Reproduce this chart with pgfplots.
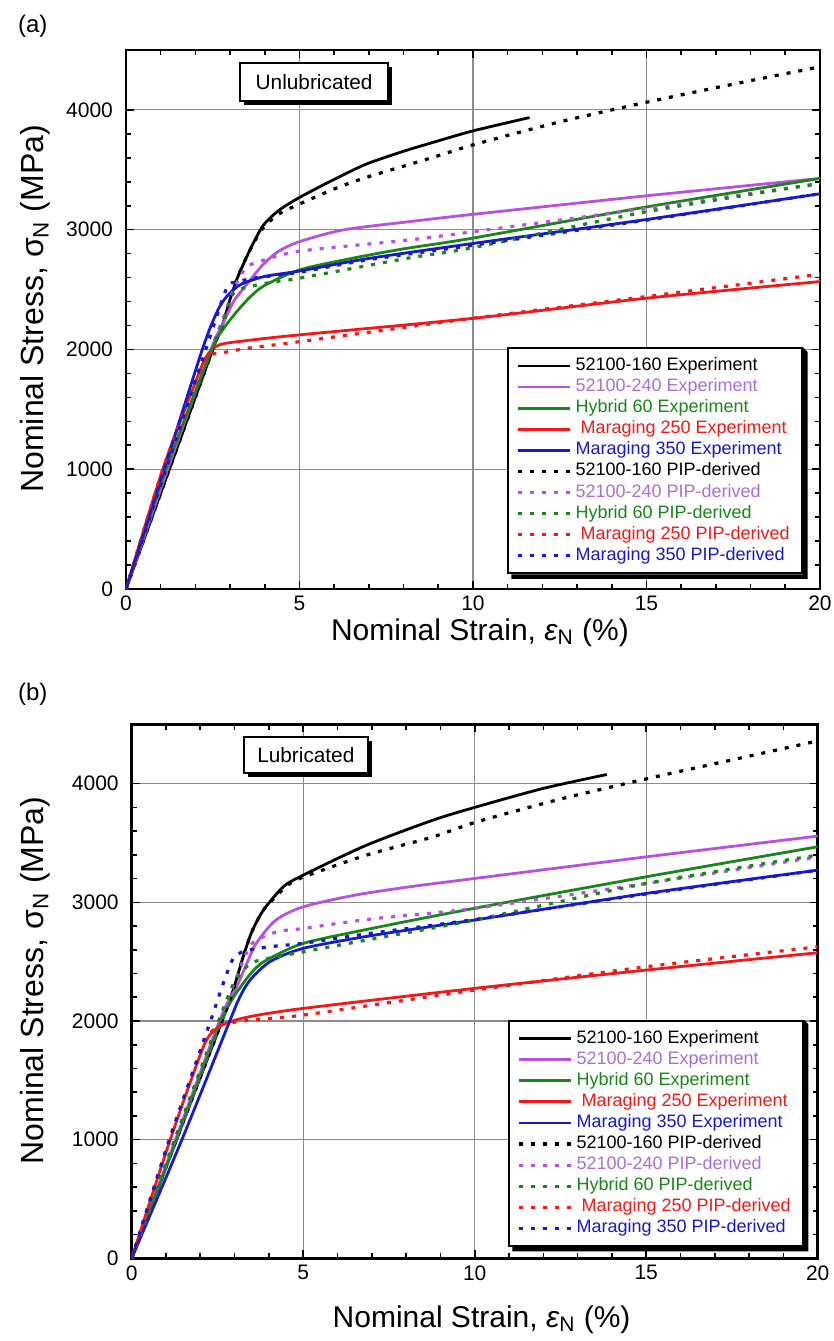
\documentclass[border=0pt]{standalone}
\usepackage{fontspec}
\setmainfont{Liberation Sans}
\usepackage{pgfplots}
\pgfplotsset{compat=1.18}
\usetikzlibrary{shadows}

\definecolor{cpur}{RGB}{182,82,222}
\definecolor{cpurt}{RGB}{172,110,214}
\definecolor{cgrn}{RGB}{24,134,24}
\definecolor{cred}{RGB}{242,24,24}
\definecolor{cblu}{RGB}{24,24,206}

% short line samples in the legend
\pgfplotsset{legend image code/.code={\draw[#1] (0pt,0pt) -- (26pt,0pt);}}

\tikzset{
  tagbox/.style={draw, line width=1pt, fill=white,
    drop shadow={shadow xshift=2pt, shadow yshift=-2pt, opacity=1, fill=black},
    anchor=west, inner xsep=5pt, font=\fontsize{10.4}{12}\selectfont},
}
% solid black shadow strip on the right and lower side of a named box
\newcommand\boxshadow[1]{%
  \fill[black] ([xshift=2.2pt,yshift=-2.2pt]#1.south west) -- ([xshift=2.2pt,yshift=-2.2pt]#1.south east)
    -- ([xshift=2.2pt,yshift=-2.2pt]#1.north east) -- (#1.north east) -- (#1.south east)
    -- ([xshift=2.2pt]#1.south west) -- cycle;}

\pgfplotsset{
  panel/.style={
    scale only axis,
    xmin=0, xmax=20, ymin=0, ymax=4500,
    xtick={0,5,10,15,20}, ytick={0,1000,2000,3000,4000},
    minor x tick num=4, minor y tick num=4,
    tick align=inside,
    major tick length=4pt, minor tick length=2.6pt,
    every tick/.style={black, line width=0.8pt},
    axis line style={line width=1.3pt},
    grid=major, major grid style={black!45, line width=0.55pt},
    tick label style={font=\fontsize{10.5}{12}\selectfont},
    yticklabel style={xshift=-3pt},
    /pgf/number format/assume math mode=true,
    /pgf/number format/1000 sep={},
    xlabel style={font=\fontsize{15}{18}\selectfont},
    ylabel style={font=\fontsize{16}{19}\selectfont},
    xlabel={Nominal Strain, {\itshape ε}\textsubscript{N} (\%)},
    ylabel={Nominal Stress, σ\textsubscript{N} (MPa)},
    legend cell align=left,
    legend style={draw=black, line width=1pt, fill=white,
      inner xsep=4pt, inner ysep=3.5pt, row sep=0pt,
      font=\fontsize{9}{10}\selectfont,
      nodes={inner ysep=0pt, inner xsep=2.2pt, text height=7.5pt, text depth=3.05pt}},
    every axis plot/.append style={line width=1.4pt, smooth, tension=0.45},
  },
  pip/.style={line width=1.6pt, dash pattern=on 2pt off 4pt},
}

\begin{document}
\begin{tikzpicture}
\path[use as bounding box] (0pt,0pt) rectangle (417pt,-670.5pt);

\node[anchor=base west, font=\fontsize{12}{14}\selectfont] at (5.5pt,-16pt) {(a)};
\node[anchor=base west, font=\fontsize{12}{14}\selectfont] at (5.5pt,-350pt) {(b)};

% ---------------- (a) unlubricated ----------------
\begin{axis}[panel,
  at={(63pt,-294.5pt)}, anchor=south west,
  width=347pt, height=269.5pt,
  ylabel style={at={(axis description cs:-0.131,0.52)}, anchor=center},
  xlabel style={at={(axis description cs:0.51,-0.095)}, anchor=base},
  legend style={at={(axis cs:10.98,2017)}, anchor=north west, name=legA},
]
\addplot[black] coordinates {(0,0)(1.25,1000)(2.5,2000)(2.75,2180)(3.0,2420)(3.2,2590)(3.55,2817)(3.94,3030)(4.4,3160)(5,3269)(6,3420)(6.92,3547)(8,3655)(8.84,3728)(10,3825)(11.63,3936)};
\addplot[cpur] coordinates {(0,0)(1.2,1000)(2.45,2000)(2.8,2220)(3.1,2400)(3.36,2500)(3.94,2706)(4.4,2820)(5,2900)(6.24,2997)(8.16,3067)(10,3128)(15,3283)(20,3428)};
\addplot[cgrn] coordinates {(0,0)(1.15,1000)(2.45,1980)(2.8,2170)(3.36,2372)(3.94,2525)(5,2664)(6.5,2760)(8,2840)(10,2930)(15,3190)(20,3428)};
\addplot[cred] coordinates {(0,0)(1.06,1000)(2.1,1800)(2.35,1956)(2.69,2039)(3.5,2075)(5,2122)(10,2260)(15,2428)(20,2567)};
\addplot[cblu] coordinates {(0,0)(1.1,1000)(2.2,2000)(2.6,2300)(2.84,2420)(3.1,2500)(3.36,2550)(4,2610)(5,2655)(7,2760)(10,2885)(15,3085)(20,3300)};
\addplot[black,pip] coordinates {(0,0)(1.25,1000)(2.5,2000)(2.75,2180)(3.0,2420)(3.2,2590)(3.55,2817)(3.94,3010)(4.4,3130)(5,3214)(6,3340)(6.92,3436)(8.84,3603)(10,3708)(12.5,3900)(15,4064)(17.5,4215)(20,4360)};
\addplot[cpur,pip] coordinates {(0,0)(1.2,1000)(2.45,2000)(2.8,2260)(3.1,2500)(3.4,2660)(3.7,2720)(5,2820)(8.16,2914)(10,2983)(15,3178)(20,3386)};
\addplot[cgrn,pip] coordinates {(0,0)(1.15,1000)(2.45,1980)(2.8,2220)(3.1,2470)(3.65,2530)(4.5,2575)(5,2595)(8.16,2764)(10,2850)(15,3150)(20,3386)};
\addplot[cred,pip] coordinates {(0,0)(1.06,1000)(2.1,1800)(2.4,1950)(2.78,1972)(3.5,2010)(5,2065)(10,2261)(15,2442)(20,2628)};
\addplot[cblu,pip] coordinates {(0,0)(1.15,1000)(2.3,2000)(2.9,2510)(3.2,2560)(3.65,2594)(5,2645)(7,2750)(10,2870)(15,3080)(20,3300)};
\legend{52100-160 Experiment,
  \textcolor{cpurt}{52100-240 Experiment},
  \textcolor{cgrn}{Hybrid 60 Experiment},
  \textcolor{cred}{\hspace{2.5pt}Maraging 250 Experiment},
  \textcolor{cblu}{Maraging 350 Experiment},
  52100-160 PIP-derived,
  \textcolor{cpurt}{52100-240 PIP-derived},
  \textcolor{cgrn}{Hybrid 60 PIP-derived},
  \textcolor{cred}{\hspace{2.5pt}Maraging 250 PIP-derived},
  \textcolor{cblu}{Maraging 350 PIP-derived}}
\node[tagbox, minimum width=74pt, minimum height=19pt] at (axis cs:3.26,4233) {Unlubricated};
\end{axis}
\boxshadow{legA}

% ---------------- (b) lubricated ----------------
\begin{axis}[panel,
  at={(65.85pt,-629.15pt)}, anchor=south west,
  width=343pt, height=267pt,
  ylabel style={at={(axis description cs:-0.141,0.52)}, anchor=center},
  xlabel style={at={(axis description cs:0.51,-0.129)}, anchor=base},
  legend style={at={(axis cs:10.97,2008)}, anchor=north west, name=legB},
]
\addplot[black] coordinates {(0,0)(1.3,1000)(2.7,2050)(3.0,2300)(3.25,2541)(3.5,2750)(3.84,2934)(4.42,3131)(5,3229)(6.85,3482)(8.79,3693)(10.06,3805)(12,3960)(13.85,4077)};
\addplot[cpur] coordinates {(0,0)(1.28,1000)(2.6,2030)(3.06,2288)(3.35,2480)(3.63,2654)(4.2,2850)(5,2962)(6.5,3060)(8.11,3131)(10,3201)(15,3383)(20,3558)};
\addplot[cgrn] coordinates {(0,0)(1.31,997)(2.67,2036)(3.25,2317)(3.6,2440)(3.93,2513)(5,2654)(7,2780)(10,2950)(15,3215)(20,3468)};
\addplot[cred] coordinates {(0,0)(1.12,997)(2.09,1783)(2.48,1938)(2.87,1993)(3.5,2040)(5,2106)(10,2275)(15,2429)(20,2575)};
\addplot[cblu] coordinates {(0,0)(1.46,997)(2.87,2008)(3.15,2200)(3.45,2345)(4.03,2499)(5,2612)(7,2720)(10,2851)(15,3075)(20,3271)};
\addplot[black,pip] coordinates {(0,0)(1.3,1000)(2.7,2050)(3.0,2300)(3.25,2541)(3.5,2750)(3.84,2934)(4.42,3110)(4.9,3201)(6.85,3398)(8.79,3552)(10.06,3678)(12.5,3870)(15.06,4044)(17.5,4200)(20,4360)};
\addplot[cpur,pip] coordinates {(0,0)(1.28,1000)(2.6,2030)(3.1,2400)(3.5,2650)(4.23,2751)(5,2780)(7,2860)(10,2949)(15,3159)(20,3383)};
\addplot[cgrn,pip] coordinates {(0,0)(1.25,1000)(2.6,2050)(3.0,2330)(3.4,2470)(3.74,2513)(5,2583)(7,2690)(10,2851)(15,3159)(20,3398)};
\addplot[cred,pip] coordinates {(0,0)(1.1,1000)(2.1,1800)(2.5,1950)(2.9,1985)(3.5,2010)(5,2050)(10,2260)(15,2457)(20,2625)};
\addplot[cblu,pip] coordinates {(0,0)(1.1,1000)(2.29,1993)(2.67,2317)(2.96,2527)(3.3,2590)(4,2625)(5,2655)(7,2740)(10,2855)(15,3070)(20,3270)};
\legend{52100-160 Experiment,
  \textcolor{cpurt}{52100-240 Experiment},
  \textcolor{cgrn}{Hybrid 60 Experiment},
  \textcolor{cred}{\hspace{2.5pt}Maraging 250 Experiment},
  \textcolor{cblu}{Maraging 350 Experiment},
  52100-160 PIP-derived,
  \textcolor{cpurt}{52100-240 PIP-derived},
  \textcolor{cgrn}{Hybrid 60 PIP-derived},
  \textcolor{cred}{\hspace{2.5pt}Maraging 250 PIP-derived},
  \textcolor{cblu}{Maraging 350 PIP-derived}}
\node[tagbox, minimum width=62pt, minimum height=18pt] at (axis cs:3.24,4240) {Lubricated};
\end{axis}
\boxshadow{legB}
\end{tikzpicture}
\end{document}
